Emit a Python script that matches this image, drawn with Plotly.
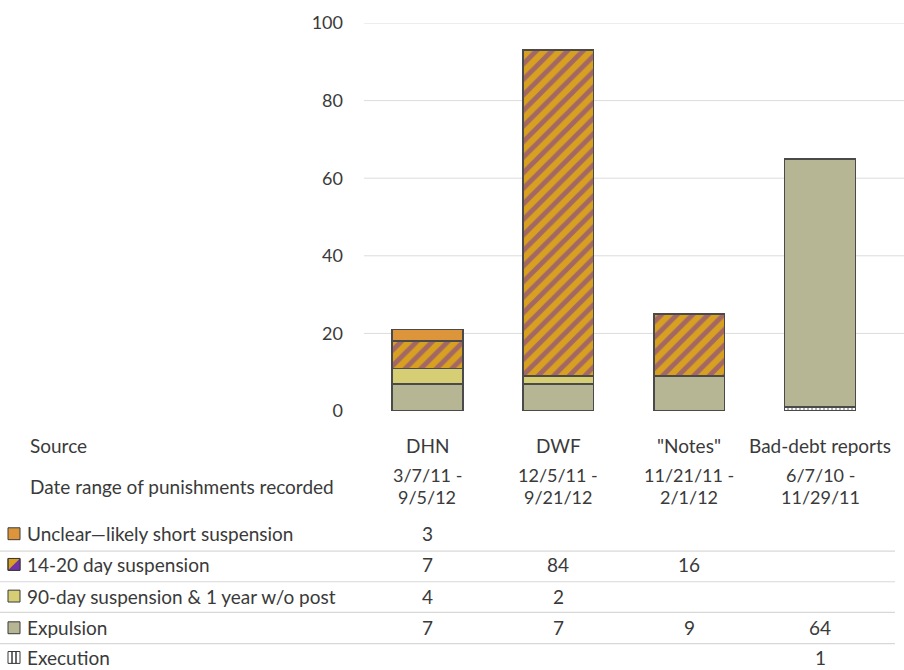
import plotly.graph_objects as go

# ---------------- data ----------------
sources = ["DHN", "DWF", '"Notes"', "Bad-debt reports"]
date_start = ["3/7/11 -", "12/5/11 -", "11/21/11 -", "6/7/10 -"]
date_end = ["9/5/12", "9/21/12", "2/1/12", "11/29/11"]

execution = [None, None, None, 1]
expulsion = [7, 7, 9, 64]
ninety_day = [4, 2, None, None]
fourteen_twenty = [7, 84, 16, None]
unclear = [3, None, None, None]

series_names = ["Unclear\u2014likely short suspension", "14-20 day suspension",
                "90-day suspension & 1 year w/o post", "Expulsion", "Execution"]

y_ticks = [0, 20, 40, 60, 80, 100]

# ---------------- layout geometry ----------------
W, H = 904, 670
L, R, T, B = 362, 11, 19, 259
PW = W - L - R
PH = H - T - B
TXT = "#3a3a3a"
FONT = "Lato"
FS = 19


def px(x):
    return (x - L) / PW


def py(y):
    return (H - B - y) / PH


LINE = dict(color="#4a4a4a", width=1.5)
ORANGE = "#d8a020"
PURPLE = "#7030a8"

fig = go.Figure()
fig.add_trace(go.Bar(x=sources, y=execution, name=series_names[4],
                     marker=dict(color="white", line=LINE,
                                 pattern=dict(shape="|", fgcolor="#3a3a3a", bgcolor="white", size=4, solidity=0.4))))
fig.add_trace(go.Bar(x=sources, y=expulsion, name=series_names[3],
                     marker=dict(color="#b6b695", line=LINE)))
fig.add_trace(go.Bar(x=sources, y=ninety_day, name=series_names[2],
                     marker=dict(color="#d5ce74", line=LINE)))
fig.add_trace(go.Bar(x=sources, y=fourteen_twenty, name=series_names[1],
                     marker=dict(color=ORANGE, line=LINE,
                                 pattern=dict(shape="/", fgcolor=PURPLE, bgcolor=ORANGE,
                                              size=11, solidity=0.45, fillmode="overlay"))))
fig.add_trace(go.Bar(x=sources, y=unclear, name=series_names[0],
                     marker=dict(color="#dc953a", line=LINE)))

shapes = []
# gridlines (no line at 0)
for v in y_ticks[1:]:
    shapes.append(dict(type="line", xref="paper", yref="y", x0=px(364), x1=px(905), y0=v, y1=v,
                       line=dict(color="#dcdcdc", width=1), layer="below"))

annotations = []


def txt(text, x, y, xref="paper", anchor="left", size=FS):
    annotations.append(dict(text=text, x=x, y=py(y), xref=xref, yref="paper",
                            xanchor=anchor, yanchor="middle", showarrow=False,
                            font=dict(family=FONT, size=size, color=TXT)))


# header rows
txt("Source", px(28), 446)
txt("Date range of punishments recorded", px(28), 487)
for s, d0, d1 in zip(sources, date_start, date_end):
    txt(s, s, 446, "x", "center")
    txt(d0, s, 476, "x", "center", 18)
    txt(d1, s, 498, "x", "center", 18)

# legend/table rows
row_y = [535, 566, 598, 630, 660]
row_values = [unclear, fourteen_twenty, ninety_day, expulsion, execution]
for name, vals, yy in zip(series_names, row_values, row_y):
    txt(name, px(25), yy)
    for s, v in zip(sources, vals):
        if v is not None:
            txt(str(v), s, yy, "x", "center")

# separators between rows
for yy in [552.5, 583.5, 614.5, 646]:
    shapes.append(dict(type="line", xref="paper", yref="paper", x0=px(0), x1=px(895), y0=py(yy), y1=py(yy),
                       line=dict(color="#d8d8d8", width=1.2)))

# legend swatches
sw = 12
edge = dict(color="#3a3a3a", width=1)


def sq(yc, fill):
    return dict(type="rect", xref="paper", yref="paper", x0=px(8), x1=px(8 + sw),
                y0=py(yc + sw / 2), y1=py(yc - sw / 2), fillcolor=fill, line=edge)


shapes.append(sq(row_y[0], "#dc953a"))
shapes.append(sq(row_y[1], ORANGE))
shapes.append(dict(type="path", xref="paper", yref="paper",
                   path=f"M {px(8)},{py(row_y[1] + sw/2)} L {px(8+sw)},{py(row_y[1] - sw/2)} L {px(8+sw)},{py(row_y[1] + sw/2)} Z",
                   fillcolor=PURPLE, line=dict(width=0)))
shapes.append(dict(type="rect", xref="paper", yref="paper", x0=px(8), x1=px(8 + sw),
                   y0=py(row_y[1] + sw / 2), y1=py(row_y[1] - sw / 2), line=edge))
shapes.append(sq(row_y[2], "#d5ce74"))
shapes.append(sq(row_y[3], "#b6b695"))
shapes.append(sq(row_y[4], "white"))
for xx in [12, 16]:
    shapes.append(dict(type="line", xref="paper", yref="paper", x0=px(xx), x1=px(xx),
                       y0=py(row_y[4] + sw / 2), y1=py(row_y[4] - sw / 2), line=dict(color="#3a3a3a", width=1.5)))

fig.update_layout(
    width=W, height=H,
    margin=dict(l=L, r=R, t=T, b=B, pad=0),
    barmode="stack", bargap=0.46,
    plot_bgcolor="white", paper_bgcolor="white",
    showlegend=False,
    font=dict(family=FONT, size=FS, color=TXT),
    xaxis=dict(showticklabels=False, showgrid=False, zeroline=False, showline=False, ticks=""),
    yaxis=dict(range=[0, 100], tickvals=y_ticks, showgrid=False, zeroline=False, showline=False,
               ticklabelstandoff=18, tickfont=dict(family=FONT, size=18, color=TXT)),
    shapes=shapes, annotations=annotations,
)

fig.write_html("out.html", config={"displayModeBar": False},
               post_script="document.body.style.margin='0';document.body.style.overflow='hidden';")
